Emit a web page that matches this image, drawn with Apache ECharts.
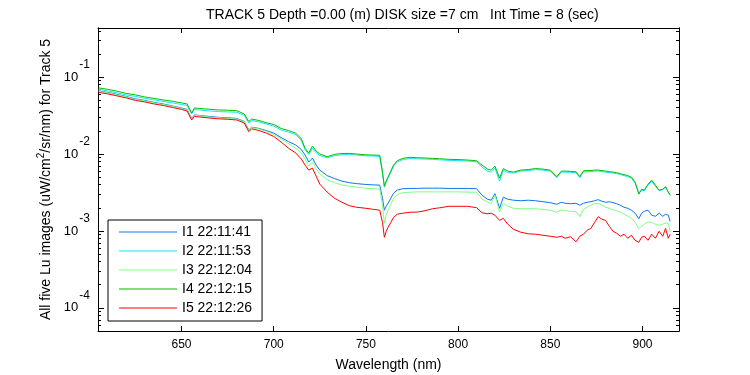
<!DOCTYPE html>
<html>
<head>
<meta charset="utf-8">
<script src="https://cdn.jsdelivr.net/npm/echarts@6.0.0/dist/echarts.min.js"></script>
<style>
  html, body { margin: 0; padding: 0; background: #fff; }
  #chart { width: 750px; height: 375px; }
</style>
</head>
<body>
<div id="chart"></div>
<script>
// wavelength grid (nm)
const wavelengths = [605, 610, 615, 620, 625, 630, 635, 640, 645, 650,
  653, 655.5, 657, 660, 665, 670, 675, 680, 684, 686.5,
  688, 692, 696, 700, 704, 708, 712, 715, 717, 719,
  721, 723, 725, 729, 733, 737, 741, 745, 750, 754,
  757.5, 759, 760, 761, 762, 763.5, 765, 767, 770, 774,
  778, 782, 786, 790, 795, 800, 805, 810, 813, 816,
  818, 820, 822.5, 824.5, 827, 830, 834, 838, 842, 846,
  850, 853.5, 856, 858, 861, 864, 866, 868, 870, 872,
  874, 876, 878, 880, 882, 884, 886, 888, 890, 892,
  894, 896, 898, 899.5, 901, 903, 905, 907, 909, 911,
  912.5, 914, 915];

const lu1 = [0.0662, 0.0633, 0.0596, 0.0561, 0.0521, 0.0498, 0.0469, 0.0448, 0.0422, 0.0397,
  0.038, 0.029, 0.0322, 0.0317, 0.0308, 0.030, 0.0296, 0.029, 0.0265, 0.0205,
  0.0224, 0.0215, 0.0202, 0.0187, 0.0164, 0.0145, 0.0131, 0.0114, 0.0097, 0.00786,
  0.00887, 0.00718, 0.00618, 0.00524, 0.00479, 0.00444, 0.00424, 0.00412, 0.00402, 0.00397,
  0.00394, 0.00266, 0.00186, 0.00209, 0.00229, 0.00266, 0.0031, 0.00339, 0.00354, 0.00357,
  0.00357, 0.0036, 0.0036, 0.0036, 0.00357, 0.00357, 0.00357, 0.00354, 0.00291, 0.00258,
  0.00251, 0.00305, 0.00197, 0.00274, 0.00258, 0.00251, 0.00247, 0.00251, 0.00247, 0.0024,
  0.00233, 0.00222, 0.00236, 0.00229, 0.00226, 0.00229, 0.00216, 0.00229, 0.00236, 0.0024,
  0.00247, 0.00255, 0.00243, 0.00236, 0.0024, 0.00233, 0.00226, 0.00216, 0.00203, 0.00197,
  0.00186, 0.0017, 0.00144, 0.0017, 0.0018, 0.00186, 0.0016, 0.00155, 0.0017, 0.00155,
  0.00165, 0.0016, 0.00133];

const lu2 = [0.0693, 0.0662, 0.0624, 0.0587, 0.0561, 0.0529, 0.0505, 0.0483, 0.0462, 0.0441,
  0.0428, 0.0332, 0.038, 0.0374, 0.0363, 0.0356, 0.0353, 0.0349, 0.0317, 0.0253,
  0.0273, 0.0261, 0.0246, 0.0231, 0.0205, 0.0193, 0.0179, 0.01495, 0.0114, 0.00985,
  0.0119, 0.0104, 0.00956, 0.00892, 0.00956, 0.00979, 0.00985, 0.0097, 0.00947, 0.00942,
  0.00933, 0.00565, 0.00371, 0.00431, 0.00444, 0.00582, 0.00697, 0.00786, 0.00848, 0.00874,
  0.00866, 0.0086, 0.00853, 0.0084, 0.00827, 0.00823, 0.0081, 0.00793, 0.00676, 0.0060,
  0.00582, 0.00656, 0.00444, 0.00618, 0.00573, 0.00565, 0.0060, 0.00609, 0.00628, 0.00618,
  0.0060, 0.00493, 0.00582, 0.00582, 0.00577, 0.0057, 0.00493, 0.00587, 0.00591, 0.00591,
  0.0060, 0.0060, 0.00591, 0.00582, 0.00573, 0.00565, 0.00556, 0.0054, 0.00524, 0.00508,
  0.00486, 0.00418, 0.0031, 0.00339, 0.00334, 0.00394, 0.00444, 0.00382, 0.00334, 0.00344,
  0.00371, 0.00319, 0.00291];

const lu3 = [0.0656, 0.0624, 0.0587, 0.0553, 0.0513, 0.049, 0.0462, 0.0441, 0.0416, 0.0391,
  0.0374, 0.0285, 0.0317, 0.0314, 0.0303, 0.0296, 0.0291, 0.0285, 0.0261, 0.0202,
  0.0221, 0.0212, 0.0196, 0.0179, 0.0157, 0.0137, 0.0119, 0.0103, 0.0086, 0.00697,
  0.00786, 0.00637, 0.00548, 0.00464, 0.00424, 0.00394, 0.00382, 0.00371, 0.0036, 0.00354,
  0.00349, 0.00216, 0.00126, 0.0016, 0.00186, 0.00222, 0.00266, 0.00296, 0.00314, 0.00319,
  0.00322, 0.00322, 0.00322, 0.00322, 0.00322, 0.00322, 0.00319, 0.00319, 0.00258, 0.00236,
  0.00227, 0.00291, 0.00176, 0.00229, 0.00209, 0.00197, 0.00194, 0.00195, 0.00194, 0.00191,
  0.00186, 0.00175, 0.00188, 0.00183, 0.0018, 0.00177, 0.00153, 0.00191, 0.00203, 0.00216,
  0.00226, 0.00229, 0.00216, 0.00203, 0.00197, 0.00188, 0.00183, 0.00175, 0.00165, 0.00155,
  0.00146, 0.00129, 0.00107, 0.00115, 0.00122, 0.00131, 0.00129, 0.00122, 0.00118, 0.00122,
  0.00127, 0.00126, 0.00097];

const lu4 = [0.0725, 0.0693, 0.0656, 0.0614, 0.0587, 0.0553, 0.0529, 0.0505, 0.0486, 0.0462,
  0.0448, 0.0342, 0.0397, 0.0391, 0.0382, 0.0374, 0.0371, 0.0366, 0.0332, 0.0265,
  0.0285, 0.0273, 0.0255, 0.0242, 0.0215, 0.0202, 0.0187, 0.0157, 0.0119, 0.0103,
  0.0127, 0.0109, 0.0100, 0.00922, 0.00991, 0.01015, 0.0102, 0.0100, 0.00976, 0.0097,
  0.00962, 0.00582, 0.00382, 0.00444, 0.00458, 0.0060, 0.00718, 0.00818, 0.00879, 0.00906,
  0.00895, 0.00887, 0.00879, 0.00868, 0.00853, 0.00848, 0.00835, 0.00818, 0.00718, 0.00637,
  0.00618, 0.00697, 0.00486, 0.00647, 0.0060, 0.00582, 0.00618, 0.00628, 0.00647, 0.00637,
  0.00618, 0.00508, 0.0060, 0.0060, 0.00595, 0.00587, 0.00508, 0.00605, 0.00609, 0.00609,
  0.00618, 0.00618, 0.00609, 0.0060, 0.00591, 0.00582, 0.00573, 0.00556, 0.0054, 0.00524,
  0.0050, 0.00431, 0.0030, 0.00349, 0.00339, 0.00406, 0.00458, 0.00394, 0.00339, 0.00349,
  0.00376, 0.00319, 0.00291];

const lu5 = [0.0633, 0.0605, 0.057, 0.0537, 0.0498, 0.0476, 0.0448, 0.0428, 0.0403, 0.038,
  0.0363, 0.0277, 0.0308, 0.0303, 0.0294, 0.0287, 0.0283, 0.0277, 0.0253, 0.0195,
  0.0213, 0.0202, 0.0187, 0.0169, 0.0143, 0.0119, 0.0103, 0.0086, 0.00718, 0.00618,
  0.00656, 0.00516, 0.00406, 0.00319, 0.00266, 0.00236, 0.00213, 0.00203, 0.00197, 0.00191,
  0.00186, 0.00129, 0.000827, 0.00099, 0.00111, 0.00129, 0.0015, 0.00165, 0.0017, 0.00175,
  0.00176, 0.00183, 0.00194, 0.0020, 0.00209, 0.00209, 0.00209, 0.00201, 0.00172, 0.00167,
  0.0017, 0.0016, 0.00137, 0.00146, 0.00122, 0.00105, 0.000962, 0.000919, 0.000906, 0.000879,
  0.000853, 0.000827, 0.000853, 0.000803, 0.00084, 0.000723, 0.000853, 0.000906, 0.00102, 0.00108,
  0.00129, 0.00153, 0.00142, 0.00137, 0.00115, 0.00099, 0.000933, 0.000853, 0.000906, 0.000803,
  0.000879, 0.000756, 0.000712, 0.000827, 0.000853, 0.000756, 0.000906, 0.000803, 0.00099, 0.000853,
  0.00108, 0.000803, 0.000906];

const seriesNames = ['I1 22:11:41', 'I2 22:11:53', 'I3 22:12:04', 'I4 22:12:15', 'I5 22:12:26'];
const seriesColors = ['#0a78f0', '#10e8f8', '#80ff80', '#00c000', '#ff0000'];
const seriesValues = [lu1, lu2, lu3, lu4, lu5];

const xTicks = [650, 700, 750, 800, 850, 900];
const yTicks = [1e-4, 1e-3, 1e-2, 1e-1];
const yMinorTicks = [];
for (let e = -5; e <= -1; e++) {
  for (let k = 2; k <= 9; k++) {
    const v = k * Math.pow(10, e);
    if (v >= 5e-5 && v <= 0.435) yMinorTicks.push(v);
  }
}

const FONT = '"Liberation Sans", Arial, Helvetica, sans-serif';
const X_MIN = 604.7, X_MAX = 919.8;
const Y_MIN = 5e-5, Y_MAX = 0.435;

const chart = echarts.init(document.getElementById('chart'));

function yAxisDef(position, ticks, len, withLabels) {
  return {
    type: 'log',
    logBase: 10,
    min: Y_MIN,
    max: Y_MAX,
    position: position,
    axisLine: { show: withLabels !== null, lineStyle: { color: '#000', width: 1 } },
    axisTick: { show: true, inside: true, length: len, customValues: ticks, lineStyle: { color: '#000' } },
    axisLabel: withLabels ? {
      show: true,
      customValues: yTicks,
      margin: 8,
      fontFamily: FONT,
      color: '#000',
      formatter: v => '{b|10}{s|' + Math.round(Math.log10(v)) + '}',
      rich: {
        b: { fontSize: 13, fontFamily: FONT, color: '#000' },
        s: { fontSize: 12, fontFamily: FONT, color: '#000', padding: [0, 0, 24, 1] }
      }
    } : { show: false },
    splitLine: { show: false },
    minorTick: { show: false },
    name: withLabels ? 'All five Lu images (uW/cm{sup|2}/sr/nm) for Track 5' : '',
    nameLocation: 'middle',
    nameGap: 30,
    nameRotate: 90,
    nameTextStyle: {
      fontSize: 14, fontFamily: FONT, color: '#000',
      rich: { sup: { fontSize: 10, fontFamily: FONT, color: '#000', padding: [0, 0, 10, 0] } }
    }
  };
}

const option = {
  backgroundColor: '#fff',
  animation: false,
  title: {
    text: 'TRACK 5 Depth =0.00 (m) DISK size =7 cm   Int Time = 8 (sec)',
    left: 201,
    top: 3,
    textStyle: { fontSize: 14, fontWeight: 'normal', fontFamily: FONT, color: '#000' }
  },
  legend: {
    orient: 'vertical',
    left: 108,
    top: 220,
    padding: [5, 10, 6, 11],
    itemWidth: 58,
    itemHeight: 1,
    itemGap: 5,
    icon: 'rect',
    borderColor: '#000',
    borderWidth: 1,
    backgroundColor: '#fff',
    textStyle: { fontSize: 14, lineHeight: 14, fontFamily: FONT, color: '#000' },
    data: seriesNames
  },
  grid: { left: 98, right: 71, top: 28, bottom: 44, outerBoundsMode: 'none' },
  xAxis: [
    {
      type: 'value', min: X_MIN, max: X_MAX, position: 'bottom',
      axisLine: { lineStyle: { color: '#000', width: 1 } },
      axisTick: { inside: true, length: 5, customValues: xTicks, lineStyle: { color: '#000' } },
      axisLabel: { customValues: xTicks, margin: 8, fontSize: 12, fontFamily: FONT, color: '#000' },
      splitLine: { show: false },
      name: 'Wavelength (nm)', nameLocation: 'middle', nameGap: 27,
      nameTextStyle: { fontSize: 14, fontFamily: FONT, color: '#000' }
    },
    {
      type: 'value', min: X_MIN, max: X_MAX, position: 'top',
      axisLine: { lineStyle: { color: '#000', width: 1 } },
      axisTick: { inside: true, length: 5, customValues: xTicks, lineStyle: { color: '#000' } },
      axisLabel: { show: false },
      splitLine: { show: false }
    }
  ],
  yAxis: [
    yAxisDef('left', yTicks, 6, true),
    yAxisDef('left', yMinorTicks, 3, false),
    yAxisDef('right', yTicks, 6, false),
    yAxisDef('right', yMinorTicks, 3, false)
  ],
  series: seriesValues.map((vals, i) => ({
    name: seriesNames[i],
    type: 'line',
    xAxisIndex: 0,
    yAxisIndex: 0,
    data: wavelengths.map((w, j) => [w, vals[j]]),
    showSymbol: false,
    symbol: 'none',
    silent: true,
    color: seriesColors[i],
    lineStyle: { width: 1, color: seriesColors[i] }
  }))
};

chart.setOption(option);
</script>
</body>
</html>
